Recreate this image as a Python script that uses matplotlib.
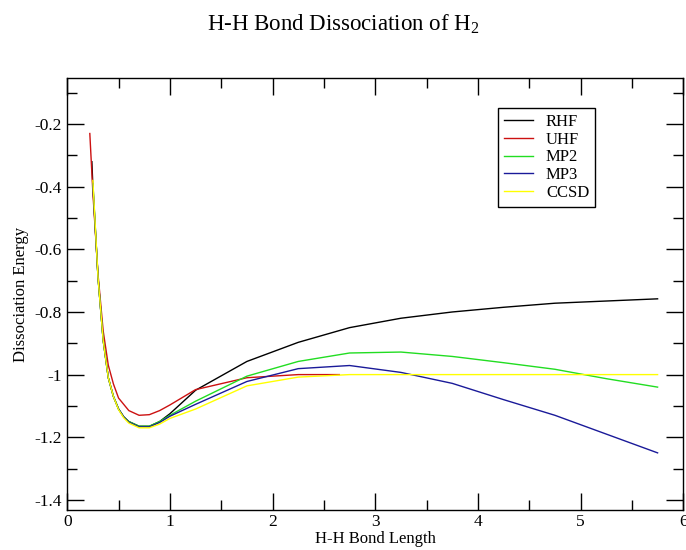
import numpy as np
import matplotlib
matplotlib.use('Agg')
import matplotlib.pyplot as plt
from matplotlib.ticker import MultipleLocator, FuncFormatter

plt.rcParams['font.family'] = ['Liberation Serif', 'DejaVu Serif']
plt.rcParams['mathtext.fontset'] = 'custom'
plt.rcParams['mathtext.rm'] = 'Liberation Serif'

# bond lengths and energies
rhf_x = [0.24, 0.25, 0.3, 0.35, 0.4, 0.45, 0.5, 0.55, 0.6, 0.7, 0.8, 0.9, 1.0,
         1.25, 1.75, 2.25, 2.75, 3.25, 3.75, 4.25, 4.75, 5.25, 5.75]
rhf_y = [-0.32, -0.40, -0.69, -0.89, -1.01, -1.07, -1.11, -1.135, -1.15, -1.165, -1.165,
         -1.15, -1.125, -1.05, -0.958, -0.897, -0.850, -0.820, -0.800, -0.785, -0.772,
         -0.765, -0.758]

uhf_x = [0.22, 0.25, 0.3, 0.35, 0.4, 0.45, 0.5, 0.6, 0.7, 0.8, 0.9, 1.0,
         1.25, 1.75, 2.25, 2.65]
uhf_y = [-0.23, -0.42, -0.68, -0.86, -0.97, -1.03, -1.075, -1.115, -1.13, -1.128,
         -1.115, -1.097, -1.048, -1.01, -1.0, -1.0]

corr_x = [0.25, 0.3, 0.35, 0.4, 0.45, 0.5, 0.55, 0.6, 0.7, 0.8, 0.9, 1.0,
          1.25, 1.75, 2.25, 2.75, 3.25, 3.75, 4.25, 4.75, 5.25, 5.75]
mp2_y = [-0.39, -0.69, -0.89, -1.01, -1.07, -1.11, -1.135, -1.15, -1.165, -1.165,
         -1.15, -1.13, -1.085, -1.005, -0.958, -0.931, -0.928, -0.942, -0.962,
         -0.983, -1.013, -1.040]
mp3_y = [-0.39, -0.69, -0.89, -1.01, -1.07, -1.11, -1.135, -1.152, -1.167, -1.167,
         -1.153, -1.133, -1.095, -1.022, -0.981, -0.971, -0.993, -1.028, -1.080,
         -1.130, -1.190, -1.250]
ccsd_y = [-0.38, -0.69, -0.89, -1.01, -1.07, -1.112, -1.138, -1.155, -1.17, -1.17,
          -1.158, -1.14, -1.11, -1.036, -1.008, -1.0, -1.0, -1.0, -1.0, -1.0,
          -1.0, -1.0]

ytick_vals = [-1.4, -1.2, -1.0, -0.8, -0.6, -0.4, -0.2]

fig = plt.figure(figsize=(6.86, 5.5), dpi=100)
ax = fig.add_axes([0.098, 0.073, 0.898, 0.785])

ax.plot(rhf_x, rhf_y, color='black', lw=1.0, label='RHF')
ax.plot(uhf_x, uhf_y, color='#cc1111', lw=1.0, label='UHF')
ax.plot(corr_x, mp2_y, color='#22dd22', lw=1.0, label='MP2')
ax.plot(corr_x, mp3_y, color='#1a1a99', lw=1.0, label='MP3')
ax.plot(corr_x, ccsd_y, color='#ffff00', lw=1.0, label='CCSD')

ax.set_xlim(0, 6)
ax.set_ylim(-1.432, -0.053)
ax.xaxis.set_major_locator(MultipleLocator(1))
ax.xaxis.set_minor_locator(MultipleLocator(0.5))
ax.set_yticks(ytick_vals)
ax.yaxis.set_minor_locator(MultipleLocator(0.1))
ax.yaxis.set_major_formatter(FuncFormatter(lambda v, p: ('%g' % round(v, 2))))
ax.tick_params(which='both', direction='in', top=True, right=True, width=1.0,
               labelsize=12.5)
ax.tick_params(which='major', length=12, pad=4)
ax.tick_params(axis='x', which='major', pad=3)
ax.tick_params(which='minor', length=7)
for s in ax.spines.values():
    s.set_linewidth(1.0)

ax.set_xlabel('H-H Bond Length', fontsize=12, labelpad=0.5)
ax.set_ylabel('Dissociation Energy', fontsize=12, labelpad=4)
fig.suptitle('H-H Bond Dissociation of H$_2$', fontsize=16.5, y=0.978)

leg = ax.legend(loc='upper left', bbox_to_anchor=(0.70, 0.93), borderaxespad=0,
                fontsize=12, handlelength=1.7, handletextpad=0.8,
                labelspacing=0.1, borderpad=0.35, fancybox=False, framealpha=1)
leg.get_frame().set_edgecolor('black')
leg.get_frame().set_linewidth(1.0)

plt.savefig('out.png', dpi=100)
